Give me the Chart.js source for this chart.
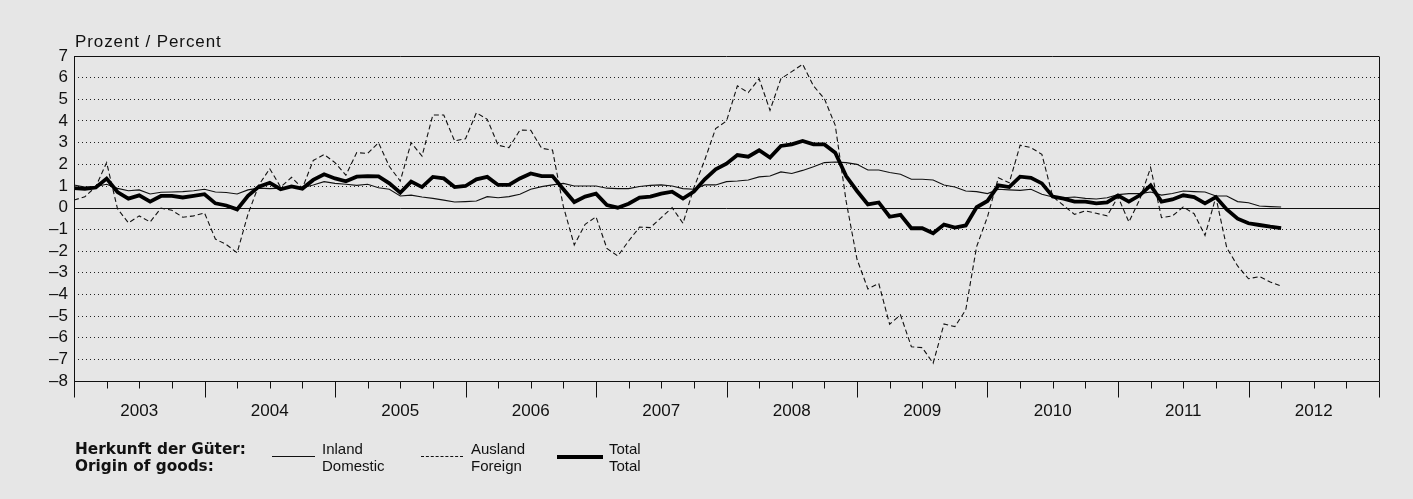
<!DOCTYPE html>
<html><head><meta charset="utf-8">
<script src="https://cdn.jsdelivr.net/npm/chart.js@4.4.0/dist/chart.umd.min.js"></script>
<style>
html,body{margin:0;padding:0;background:#fff;}
#wrap{position:relative;width:1413px;height:499px;background:#e6e6e6;overflow:hidden;}
#c{position:absolute;left:0;top:0;}
.leg{position:absolute;font-family:"Liberation Sans",Arial,sans-serif;font-size:15px;color:#111;line-height:17px;white-space:nowrap;}
.legb{position:absolute;font-family:"DejaVu Sans",sans-serif;font-weight:bold;font-size:15.3px;color:#111;line-height:17px;white-space:nowrap;}
.ttl{position:absolute;font-family:"Liberation Sans",Arial,sans-serif;font-size:17px;letter-spacing:0.9px;color:#111;white-space:nowrap;}
.sw{position:absolute;height:0;}
</style></head><body>
<div id="wrap">
<canvas id="c" width="1413" height="499"></canvas>
<div class="ttl" style="left:75px;top:32px;">Prozent / Percent</div>
<div class="legb" style="left:75px;top:441px;">Herkunft der Güter:<br>Origin of goods:</div>
<div class="sw" style="left:272px;top:456px;width:43px;border-top:1px solid #111;"></div>
<div class="leg" style="left:322px;top:440px;">Inland<br>Domestic</div>
<div class="sw" style="left:421px;top:456px;width:42px;border-top:1px dashed #111;"></div>
<div class="leg" style="left:471px;top:440px;">Ausland<br>Foreign</div>
<div class="sw" style="left:557px;top:455px;width:46px;border-top:4px solid #000;"></div>
<div class="leg" style="left:609px;top:440px;">Total<br>Total</div>
</div>
<script>
// Monthly values, January 2003 to April 2012 (change vs. previous year, %)
const years = ['2003','2004','2005','2006','2007','2008','2009','2010','2011','2012'];
const domestic = [
 1.05,0.95,0.98,1.08,0.89,0.78,0.82,0.63,0.71,0.72,0.74,0.78,
 0.85,0.72,0.70,0.63,0.82,0.90,0.88,0.90,0.95,0.92,1.05,1.20,
 1.12,1.08,1.03,1.08,0.92,0.85,0.54,0.58,0.49,0.43,0.35,0.26,
 0.28,0.31,0.51,0.46,0.51,0.62,0.85,0.97,1.05,1.12,1.00,1.00,
 1.00,0.90,0.88,0.88,0.98,1.03,1.05,1.00,0.88,0.85,1.05,1.05,
 1.20,1.23,1.28,1.42,1.46,1.65,1.58,1.72,1.89,2.08,2.11,2.08,
 2.00,1.74,1.74,1.62,1.54,1.31,1.31,1.28,1.05,0.95,0.77,0.74,
 0.65,0.85,0.82,0.80,0.85,0.62,0.49,0.46,0.49,0.43,0.40,0.46,
 0.60,0.65,0.65,0.72,0.58,0.65,0.77,0.74,0.72,0.54,0.54,0.28,
 0.23,0.08,0.05,0.03];
const foreign = [
 0.35,0.50,0.97,2.08,-0.05,-0.70,-0.38,-0.66,-0.02,-0.12,-0.44,-0.38,
 -0.24,-1.45,-1.70,-2.08,-0.30,1.05,1.80,0.95,1.40,0.90,2.18,2.45,
 2.08,1.50,2.54,2.50,3.00,1.90,1.23,3.00,2.38,4.28,4.28,3.08,
 3.18,4.38,4.08,2.88,2.77,3.58,3.57,2.74,2.66,0.05,-1.72,-0.77,
 -0.42,-1.88,-2.23,-1.54,-0.90,-0.92,-0.46,0.00,-0.72,0.92,2.20,3.65,
 4.00,5.62,5.31,5.95,4.49,5.95,6.28,6.62,5.62,5.03,3.80,0.30,
 -2.38,-3.75,-3.50,-5.38,-4.95,-6.42,-6.46,-7.18,-5.37,-5.49,-4.72,-1.80,
 -0.42,1.38,1.15,2.88,2.77,2.46,0.51,0.10,-0.31,-0.15,-0.26,-0.38,
 0.50,-0.66,0.38,1.85,-0.46,-0.38,0.03,-0.28,-1.28,0.49,-1.85,-2.69,
 -3.28,-3.18,-3.43,-3.62];
const total = [
 0.90,0.87,0.93,1.34,0.72,0.42,0.57,0.28,0.54,0.54,0.47,0.54,
 0.62,0.20,0.10,-0.08,0.55,0.97,1.15,0.85,0.98,0.88,1.28,1.54,
 1.35,1.22,1.43,1.46,1.44,1.12,0.69,1.20,0.95,1.42,1.35,0.95,
 1.00,1.31,1.42,1.05,1.05,1.35,1.58,1.46,1.46,0.85,0.26,0.51,
 0.65,0.12,0.00,0.18,0.46,0.51,0.65,0.74,0.42,0.74,1.31,1.77,
 2.03,2.43,2.35,2.65,2.31,2.85,2.92,3.08,2.92,2.92,2.54,1.46,
 0.77,0.15,0.24,-0.42,-0.33,-0.95,-0.95,-1.18,-0.78,-0.92,-0.82,0.02,
 0.31,1.03,0.95,1.43,1.38,1.12,0.51,0.42,0.28,0.28,0.20,0.24,
 0.56,0.28,0.57,1.03,0.28,0.38,0.57,0.49,0.20,0.49,-0.08,-0.51,
 -0.72,-0.80,-0.88,-0.94];
const yTicks = [7,6,5,4,3,2,1,0,-1,-2,-3,-4,-5,-6,-7,-8];

const toPts = arr => arr.map((v,i)=>({x:i,y:v}));
const FONT = '"Liberation Sans", Arial, sans-serif';
const nMonths = years.length*12;

const framePlugin = {
  id:'frame',
  beforeDatasetsDraw(chart){
    const {ctx, chartArea:a, scales:{y}} = chart;
    ctx.save();
    ctx.strokeStyle = '#111'; ctx.lineWidth = 1; ctx.setLineDash([]);
    const y0 = Math.round(y.getPixelForValue(0))+0.5;
    ctx.beginPath(); ctx.moveTo(a.left, y0); ctx.lineTo(a.right, y0); ctx.stroke();
    ctx.restore();
  },
  afterDraw(chart){
    const {ctx, chartArea:a, scales:{x,y}} = chart;
    ctx.save();
    ctx.strokeStyle = '#111'; ctx.lineWidth = 1; ctx.setLineDash([]);
    const top = Math.round(y.getPixelForValue(7))+0.5;
    const bot = Math.round(y.getPixelForValue(-8))+0.5;
    ctx.beginPath(); ctx.moveTo(a.left, top); ctx.lineTo(a.right, top); ctx.stroke();
    ctx.beginPath(); ctx.moveTo(a.left, bot); ctx.lineTo(a.right, bot); ctx.stroke();
    for(let m=0; m<=nMonths; m+=3){
      const px = Math.round(x.getPixelForValue(m))+0.5;
      const len = (m%12===0) ? 16 : 7;
      ctx.beginPath(); ctx.moveTo(px, bot); ctx.lineTo(px, bot+len); ctx.stroke();
    }
    const rx = Math.round(x.getPixelForValue(nMonths))+0.5;
    const lx = Math.round(x.getPixelForValue(0))+0.5;
    ctx.beginPath(); ctx.moveTo(rx, top); ctx.lineTo(rx, bot); ctx.stroke();
    ctx.beginPath(); ctx.moveTo(lx, top); ctx.lineTo(lx, bot); ctx.stroke();
    ctx.restore();
  }
};

new Chart(document.getElementById('c'), {
  type:'line',
  data:{datasets:[
    {label:'Total', data:toPts(total), borderColor:'#000', borderWidth:3.8, pointRadius:0, tension:0, order:0, borderJoinStyle:'miter'},
    {label:'Inland', data:toPts(domestic), borderColor:'#111', borderWidth:1.1, pointRadius:0, tension:0, order:1},
    {label:'Ausland', data:toPts(foreign), borderColor:'#111', borderWidth:1.1, borderDash:[5,3], pointRadius:0, tension:0, order:2}
  ]},
  options:{
    responsive:false, animation:false, devicePixelRatio:1,
    layout:{padding:{left:0,right:34,top:56,bottom:0}},
    plugins:{legend:{display:false}, tooltip:{enabled:false}},
    scales:{
      x:{type:'linear', min:0, max:nMonths,
        afterBuildTicks: s => { s.ticks = years.map((yr,k)=>({value:6+12*k})); },
        afterFit: s => { s.height = 118; },
        ticks:{autoSkip:false, maxRotation:0, padding:4, color:'#111', font:{family:FONT,size:17},
          callback:(v)=> years[Math.round((v-6)/12)]},
        grid:{display:true, drawOnChartArea:false, drawTicks:true, tickLength:16, color:'rgba(0,0,0,0)', tickColor:'rgba(0,0,0,0)'},
        border:{display:false}
      },
      y:{min:-8, max:7,
        afterBuildTicks: s => { s.ticks = yTicks.map(v=>({value:v})); },
        afterFit: s => { s.width = 74; },
        ticks:{autoSkip:false, padding:6, color:'#111', font:{family:FONT,size:17},
          callback:(v)=> v<0 ? '\u2013'+Math.abs(v) : String(v)},
        grid:{drawTicks:false, lineWidth:1,
          color: c => (c.tick && (c.tick.value===0 || c.tick.value===7 || c.tick.value===-8)) ? 'rgba(0,0,0,0)' : '#222'},
        border:{display:false, dash:[1,3]}
      }
    }
  },
  plugins:[framePlugin]
});
</script>
</body></html>
